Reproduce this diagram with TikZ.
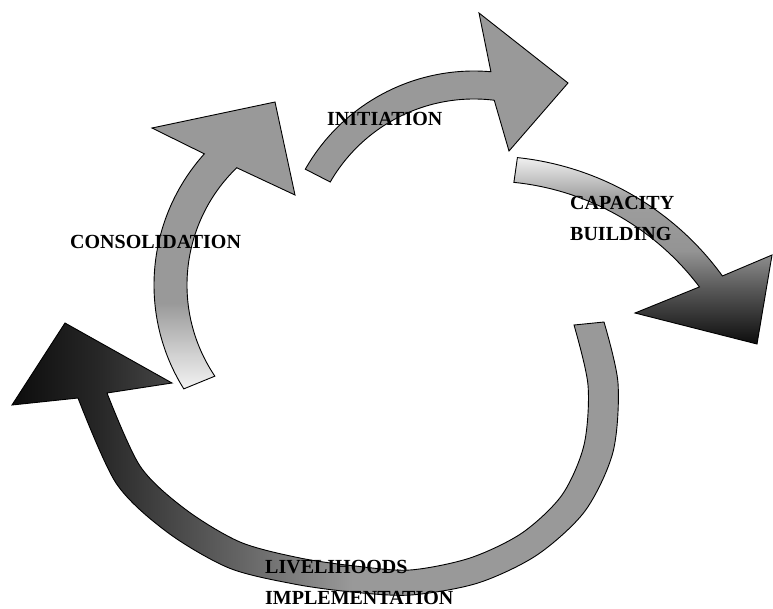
\documentclass[tikz,border=0pt]{standalone}
\usepackage{fontspec}
\setmainfont{Liberation Serif}
\pgfdeclareverticalshading{consolshade}{100bp}{color(0bp)=(black!5); color(25bp)=(black!5); color(31bp)=(black!18); color(40bp)=(black!40); color(100bp)=(black!40)}
\pgfdeclareverticalshading{capshade}{100bp}{color(0bp)=(black!95); color(25bp)=(black!95); color(40bp)=(black!65); color(50bp)=(black!42); color(64bp)=(black!38); color(75bp)=(black!6); color(100bp)=(black!6)}
\pgfdeclarehorizontalshading{liveshade}{100bp}{color(0bp)=(black!95); color(25bp)=(black!95); color(32bp)=(black!85); color(45bp)=(black!58); color(53bp)=(black!40); color(100bp)=(black!40)}
\begin{document}
\begin{tikzpicture}[x=1pt,y=-1pt,
  band/.style={draw=black,line width=0.9pt,line join=miter},
  lbl/.style={font=\fontsize{20}{31}\selectfont\bfseries,text=black,inner sep=0pt,anchor=north west,align=left}]
\useasboundingbox (0,0) rectangle (773,608);
\coordinate (cc) at (350,285);
\coordinate (ic) at (474,265);
\coordinate (kc) at (487,447);
% Consolidation arrow
\shadedraw[band,shading=consolshade]
  ([shift={(148:196)}]cc) arc[start angle=148,end angle=222,radius=196]
  -- (152,128) -- (275,102) -- (295,195)
  -- ([shift={(226:163)}]cc) arc[start angle=226,end angle=146,radius=163]
  -- cycle;
% Initiation arrow
\filldraw[band,fill=black!40]
  ([shift={(209.6:194)}]ic) arc[start angle=209.6,end angle=275,radius=194]
  -- (479,13) -- (568,83) -- (509,151)
  -- ([shift={(277:166)}]ic) arc[start angle=277,end angle=210,radius=166]
  -- cycle;
% Capacity building arrow
\shadedraw[band,shading=capshade]
  ([shift={(276:291)}]kc) arc[start angle=276,end angle=324,radius=291]
  -- (772,255) -- (757,344) -- (635,313)
  -- ([shift={(323:266)}]kc) arc[start angle=323,end angle=275.8,radius=266]
  -- cycle;
% Livelihoods implementation arrow
\shadedraw[band,shading=liveshade]
  plot[smooth] coordinates {(604,322) (618,383) (613,452) (585,511) (537,555) (478,583) (411,595) (352,592) (294,584) (229,568) (167,532) (116,483) (78,398)}
  -- (12,405) -- (65,323) -- (172,383) -- (107,393)
  -- plot[smooth] coordinates {(107,393) (140,466) (185,509) (240,542) (300,558) (355,566) (410,570) (470,558) (522,533) (562,495) (584,445) (588,385) (574,325)}
  -- cycle;
% Labels
\node[lbl] (cons) at (70,235) {CONSOLIDATION};
\node[lbl] (init) at (327,112) {INITIATION};
\node[lbl] (cap) at (570,196) {CAPACITY\\BUILDING};
\node[lbl] (live) at (265,560) {LIVELIHOODS\\IMPLEMENTATION};
\end{tikzpicture}
\end{document}
